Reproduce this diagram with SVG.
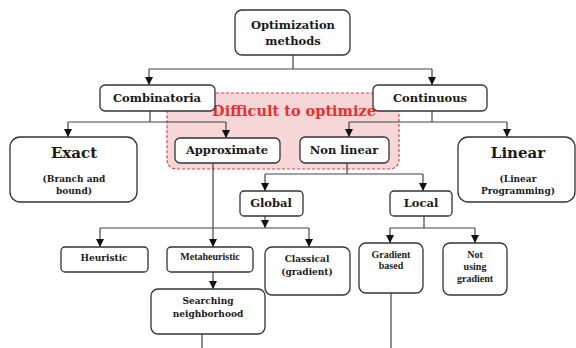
<svg xmlns="http://www.w3.org/2000/svg" width="576" height="348" viewBox="0 0 576 348">
<style>
.box{fill:#fff;stroke:#333;stroke-width:1.3}
.ln{fill:none;stroke:#444;stroke-width:1.2}
.t{font-family:"DejaVu Serif","Liberation Serif",serif;font-weight:bold;fill:#1a1a1a;text-anchor:middle}
.tm{font-size:11.5px}
.tb{font-size:15px}
.ts{font-size:9px}
.tt{font-family:"Liberation Serif",serif;font-weight:bold;fill:#1a1a1a;text-anchor:middle;font-size:10px}
</style>
<defs>
<marker id="ah" viewBox="0 0 10 10" refX="10" refY="5" markerWidth="8" markerHeight="8" markerUnits="userSpaceOnUse" orient="auto">
<path d="M0,0 L10,5 L0,10 z" fill="#111"/>
</marker>
</defs>
<rect width="576" height="348" fill="#fff"/>
<g id="difficult-region">
<rect x="167" y="93" width="232" height="76" rx="9" fill="#f6d6d6" stroke="#e84040" stroke-width="1.2" stroke-dasharray="3,2"/>
<text x="294" y="116" font-family="DejaVu Serif,serif" font-weight="bold" font-size="14.5" fill="#e83030" text-anchor="middle">Difficult to optimize</text>
</g>
<g id="connectors">
<path class="ln" d="M293,55 V69 M149,69 H432"/>
<path class="ln" d="M149,69 V85" marker-end="url(#ah)"/>
<path class="ln" d="M432,69 V85" marker-end="url(#ah)"/>
<path class="ln" d="M150,111 V122 M68,122 H226"/>
<path class="ln" d="M68,122 V137" marker-end="url(#ah)"/>
<path class="ln" d="M226,122 V138" marker-end="url(#ah)"/>
<path class="ln" d="M432,111 V122 M349,122 H507"/>
<path class="ln" d="M349,122 V137" marker-end="url(#ah)"/>
<path class="ln" d="M507,122 V137" marker-end="url(#ah)"/>
<path class="ln" d="M347,163 V174 M265,174 H423"/>
<path class="ln" d="M265,174 V191" marker-end="url(#ah)"/>
<path class="ln" d="M423,174 V191" marker-end="url(#ah)"/>
<path class="ln" d="M213,163 V247" marker-end="url(#ah)"/>
<path class="ln" d="M265,216 V228" marker-end="url(#ah)"/>
<path class="ln" d="M100,228 H309"/>
<path class="ln" d="M100,228 V247" marker-end="url(#ah)"/>
<path class="ln" d="M309,228 V247" marker-end="url(#ah)"/>
<path class="ln" d="M213,272 V289" marker-end="url(#ah)"/>
<path class="ln" d="M202,334 V348"/>
<path class="ln" d="M424,216 V228 M390,228 H475"/>
<path class="ln" d="M390,228 V243" marker-end="url(#ah)"/>
<path class="ln" d="M475,228 V243" marker-end="url(#ah)"/>
<path class="ln" d="M391,293 V348"/>
</g>
<g id="optimization-methods">
<rect class="box" x="235" y="10" width="115" height="45" rx="7"/>
<text class="t tm" x="293" y="29">Optimization</text>
<text class="t tm" x="293" y="45">methods</text>
</g>
<g id="combinatoria">
<rect class="box" x="100" y="85" width="115" height="26" rx="5"/>
<text class="t tm" x="157" y="102">Combinatoria</text>
</g>
<g id="continuous">
<rect class="box" x="373" y="85" width="114" height="26" rx="5"/>
<text class="t tm" x="430" y="102">Continuous</text>
</g>
<g id="exact">
<rect class="box" x="10" y="137" width="127" height="65" rx="10"/>
<text class="t tb" x="74" y="158">Exact</text>
<text class="t ts" x="74" y="182">(Branch and</text>
<text class="t ts" x="74" y="194">bound)</text>
</g>
<g id="approximate">
<rect class="box" x="175" y="138" width="105" height="25" rx="5"/>
<text class="t tm" x="227" y="154">Approximate</text>
</g>
<g id="non-linear">
<rect class="box" x="300" y="137" width="89" height="26" rx="5"/>
<text class="t tm" x="344" y="154">Non linear</text>
</g>
<g id="linear">
<rect class="box" x="458" y="137" width="117" height="65" rx="10"/>
<text class="t tb" x="518" y="158">Linear</text>
<text class="t ts" x="518" y="182">(Linear</text>
<text class="t ts" x="518" y="194">Programming)</text>
</g>
<g id="global">
<rect class="box" x="240" y="191" width="63" height="25" rx="4"/>
<text class="t tm" x="271" y="207">Global</text>
</g>
<g id="local">
<rect class="box" x="390" y="191" width="62" height="25" rx="4"/>
<text class="t tm" x="421" y="207">Local</text>
</g>
<g id="heuristic">
<rect class="box" x="61" y="247" width="87" height="25" rx="4"/>
<text class="t ts" x="104" y="261">Heuristic</text>
</g>
<g id="metaheuristic">
<rect class="box" x="167" y="247" width="86" height="25" rx="4"/>
<text class="tt" x="210" y="260" font-size="9.5">Metaheuristic</text>
</g>
<g id="classical">
<rect class="box" x="265" y="247" width="85" height="48" rx="7"/>
<text class="t ts" x="307" y="262">Classical</text>
<text class="t ts" x="307" y="275">(gradient)</text>
</g>
<g id="searching-neighborhood">
<rect class="box" x="151" y="289" width="114" height="45" rx="7"/>
<text class="t ts" x="208" y="304">Searching</text>
<text class="t ts" x="208" y="317">neighborhood</text>
</g>
<g id="gradient-based">
<rect class="box" x="359" y="243" width="64" height="50" rx="7"/>
<text class="tt" x="391" y="258" font-size="9.5">Gradient</text>
<text class="tt" x="391" y="269" font-size="9.5">based</text>
</g>
<g id="not-using-gradient">
<rect class="box" x="443" y="243" width="64" height="52" rx="7"/>
<text class="tt" x="475" y="258" font-size="9.5">Not</text>
<text class="tt" x="475" y="270" font-size="9.5">using</text>
<text class="tt" x="475" y="282" font-size="9.5">gradient</text>
</g>
</svg>
